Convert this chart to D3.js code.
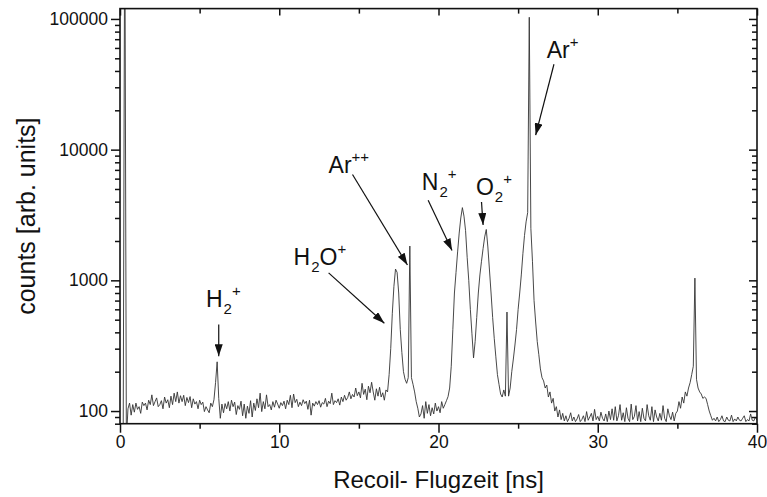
<!DOCTYPE html>
<html>
<head>
<meta charset="utf-8">
<script src="https://cdn.jsdelivr.net/npm/d3@7"></script>
<style>
body { margin: 0; background: #fff; }
svg text { font-family: "Liberation Sans", Arial, Helvetica, sans-serif; fill: #111; }
</style>
</head>
<body>
<svg id="chart"></svg>
<script>
// recoil time-of-flight spectrum, one value per 0.1 ns bin from 0 to 40 ns
const binWidth = 0.1
const counts = [
  60, 60, 60, 1000000, 60, 104, 115, 93, 112, 98,
  115, 103, 108, 96, 117, 110, 115, 102, 121, 112,
  133, 110, 118, 126, 108, 112, 120, 104, 128, 115,
  122, 106, 130, 112, 137, 118, 140, 115, 131, 118,
  132, 110, 127, 116, 129, 106, 124, 113, 118, 104,
  121, 112, 117, 99, 108, 102, 97, 115, 108, 122,
  165, 238, 125, 88, 113, 97, 114, 104, 118, 100,
  121, 108, 117, 94, 110, 103, 119, 92, 113, 88,
  109, 96, 120, 90, 115, 101, 124, 106, 137, 99,
  118, 104, 133, 108, 112, 102, 118, 107, 121, 113,
  105, 116, 110, 119, 104, 121, 112, 132, 106, 135,
  116, 123, 108, 117, 110, 122, 114, 119, 103, 121,
  93, 115, 109, 118, 112, 120, 107, 116, 113, 125,
  108, 119, 114, 137, 112, 120, 116, 124, 111, 128,
  118, 132, 121, 127, 140, 124, 134, 128, 150, 131,
  140, 126, 163, 134, 147, 122, 155, 138, 166, 140,
  121, 148, 130, 152, 128, 138, 121, 145, 140, 190,
  300, 560, 900, 1220, 1150, 800, 420, 280, 200, 175,
  163, 180, 1830, 180, 160, 140, 118, 105, 90, 95,
  110, 88, 118, 96, 112, 92, 106, 95, 115, 100,
  108, 97, 118, 105, 112, 120, 129, 150, 220, 420,
  800, 1150, 1650, 2300, 3000, 3600, 3100, 2400, 1500, 1000,
  600, 390, 255, 340, 520, 800, 1100, 1400, 1750, 2150,
  2450, 1800, 1200, 800, 520, 360, 260, 190, 160, 135,
  128, 145, 130, 572, 130, 150, 200, 250, 320, 420,
  600, 800, 1100, 1600, 2200, 2800, 3300, 103000, 2500, 1400,
  700, 480, 340, 270, 210, 180, 170, 150, 158, 128,
  140, 115, 125, 100, 108, 90, 102, 86, 96, 84,
  92, 83, 88, 97, 84, 90, 83, 87, 94, 83,
  86, 92, 83, 99, 85, 90, 96, 84, 103, 86,
  91, 84, 98, 88, 84, 95, 83, 100, 86, 104,
  85, 108, 84, 92, 112, 85, 97, 83, 106, 88,
  83, 113, 86, 91, 110, 84, 99, 83, 105, 88,
  84, 112, 92, 85, 108, 83, 102, 90, 84, 96,
  85, 110, 88, 83, 104, 92, 86, 98, 84, 96,
  100, 118, 105, 128, 115, 140, 130, 150, 165, 190,
  220, 1040, 175, 150, 140, 135, 125, 128, 125, 112,
  100, 92, 85, 88, 84, 90, 83, 86, 92, 84,
  83, 90, 85, 84, 93, 83, 87, 84, 90, 85,
  84, 88, 92, 83, 86, 84, 95, 85, 84, 90,
  85
]

const xTicks = [0, 10, 20, 30, 40]
const xMinor = [5, 15, 25, 35]
const yTicks = [100, 1000, 10000, 100000]

// peak labels: text parts, label anchor and arrow (time in ns, counts)
const peaks = [
  {parts: [["H"], ["2", "sub"], ["+", "sup"]], at: [5.4, 625], from: [6.2, 460], to: [6.2, 262]},
  {parts: [["H"], ["2", "sub"], ["O"], ["+", "sup"]], at: [10.9, 1310], from: [13.1, 1140], to: [16.6, 470]},
  {parts: [["Ar"], ["++", "sup"]], at: [13.1, 6600], from: [14.6, 6450], to: [18.05, 1310]},
  {parts: [["N"], ["2", "sub"], ["+", "sup"]], at: [18.95, 4900], from: [19.35, 4100], to: [20.85, 1690]},
  {parts: [["O"], ["2", "sub"], ["+", "sup"]], at: [22.35, 4500], from: [22.7, 3980], to: [22.8, 2650]},
  {parts: [["Ar"], ["+", "sup"]], at: [26.8, 50000], from: [27.25, 45000], to: [26.1, 12900]}
]

const width = 767, height = 497
const plotLeft = 120, plotRight = 757, plotTop = 8.6, plotBottom = 423.7

const svg = d3.select('#chart')
  .attr('width', width)
  .attr('height', height)

svg.append('rect').attr('width', width).attr('height', height).attr('fill', '#fff')

const x = d3.scaleLinear().domain([0, 40]).range([plotLeft, plotRight])
const y = d3.scaleLog().domain([80, 120000]).range([plotBottom, plotTop])

let minorY = []
for (let k = 1; k <= 5; k++) {
  for (let m = 2; m <= 9; m++) {
    const v = m * Math.pow(10, k)
    if (v >= 80 && v <= 120000) minorY.push(v)
  }
}

const defs = svg.append('defs')
defs.append('clipPath').attr('id', 'plot')
  .append('rect')
  .attr('x', plotLeft).attr('y', plotTop)
  .attr('width', plotRight - plotLeft).attr('height', plotBottom - plotTop)

defs.append('marker')
  .attr('id', 'head')
  .attr('markerUnits', 'userSpaceOnUse')
  .attr('markerWidth', 13).attr('markerHeight', 8)
  .attr('refX', 12).attr('refY', 4)
  .attr('orient', 'auto')
  .append('path')
  .attr('d', 'M0,0 L12,4 L0,8 Z')
  .attr('fill', '#111')

// spectrum
let line = d3.line()
  .x((d, i) => x(i * binWidth))
  .y(d => y(d))

svg.append('path')
  .datum(counts)
  .attr('clip-path', 'url(#plot)')
  .attr('d', line)
  .attr('fill', 'none')
  .attr('stroke', '#333')
  .attr('stroke-width', 0.9)
  .attr('stroke-linejoin', 'round')

function styleAxis(g) {
  g.select('.domain').remove()
  g.selectAll('line').attr('stroke', '#111').attr('stroke-width', 1.5)
  g.selectAll('text').attr('font-size', 17.5).attr('fill', '#111')
    .attr('font-family', '"Liberation Sans", Arial, sans-serif')
}

// bottom axis, ticks outside
svg.append('g').attr('transform', `translate(0,${plotBottom})`)
  .call(d3.axisBottom(x).tickValues(xTicks).tickSize(9).tickPadding(3).tickFormat(d3.format('d')))
  .call(styleAxis)
svg.append('g').attr('transform', `translate(0,${plotBottom})`)
  .call(d3.axisBottom(x).tickValues(xMinor).tickSize(5).tickFormat(''))
  .call(styleAxis)

// top axis, ticks inside
svg.append('g').attr('transform', `translate(0,${plotTop})`)
  .call(d3.axisBottom(x).tickValues(xTicks).tickSize(7).tickFormat(''))
  .call(styleAxis)
svg.append('g').attr('transform', `translate(0,${plotTop})`)
  .call(d3.axisBottom(x).tickValues(xMinor).tickSize(5).tickFormat(''))
  .call(styleAxis)

// left axis, ticks outside
svg.append('g').attr('transform', `translate(${plotLeft},0)`)
  .call(d3.axisLeft(y).tickValues(yTicks).tickSize(9).tickPadding(3).tickFormat(d3.format('d')))
  .call(styleAxis)
svg.append('g').attr('transform', `translate(${plotLeft},0)`)
  .call(d3.axisLeft(y).tickValues(minorY).tickSize(5).tickFormat(''))
  .call(styleAxis)

// right axis, ticks inside
svg.append('g').attr('transform', `translate(${plotRight},0)`)
  .call(d3.axisLeft(y).tickValues(yTicks).tickSize(8).tickFormat(''))
  .call(styleAxis)
svg.append('g').attr('transform', `translate(${plotRight},0)`)
  .call(d3.axisLeft(y).tickValues(minorY).tickSize(5).tickFormat(''))
  .call(styleAxis)

svg.append('rect')
  .attr('x', plotLeft).attr('y', plotTop)
  .attr('width', plotRight - plotLeft).attr('height', plotBottom - plotTop)
  .attr('fill', 'none')
  .attr('stroke', '#111')
  .attr('stroke-width', 1.6)

// axis titles
svg.append('text')
  .attr('x', (plotLeft + plotRight) / 2).attr('y', 488)
  .attr('text-anchor', 'middle')
  .attr('font-size', 24)
  .text('Recoil- Flugzeit [ns]')

svg.append('text')
  .attr('transform', `translate(35,${(plotTop + plotBottom) / 2}) rotate(-90)`)
  .attr('text-anchor', 'middle')
  .attr('font-size', 25)
  .text('counts [arb. units]')

// peak labels with arrows
peaks.forEach(p => {
  svg.append('line')
    .attr('x1', x(p.from[0])).attr('y1', y(p.from[1]))
    .attr('x2', x(p.to[0])).attr('y2', y(p.to[1]))
    .attr('stroke', '#111')
    .attr('stroke-width', 1.2)
    .attr('marker-end', 'url(#head)')

  let t = svg.append('text')
    .attr('x', x(p.at[0])).attr('y', y(p.at[1]))
    .attr('font-size', 23)
  let shift = 0
  p.parts.forEach(([s, kind]) => {
    let target = kind === 'sub' ? 7 : kind === 'sup' ? -11 : 0
    t.append('tspan')
      .attr('dy', target - shift)
      .attr('dx', kind === 'sub' ? 1 : 0)
      .attr('font-size', kind ? 15 : 23)
      .attr('fill', '#111')
      .text(s)
    shift = target
  })
})
</script>
</body>
</html>
